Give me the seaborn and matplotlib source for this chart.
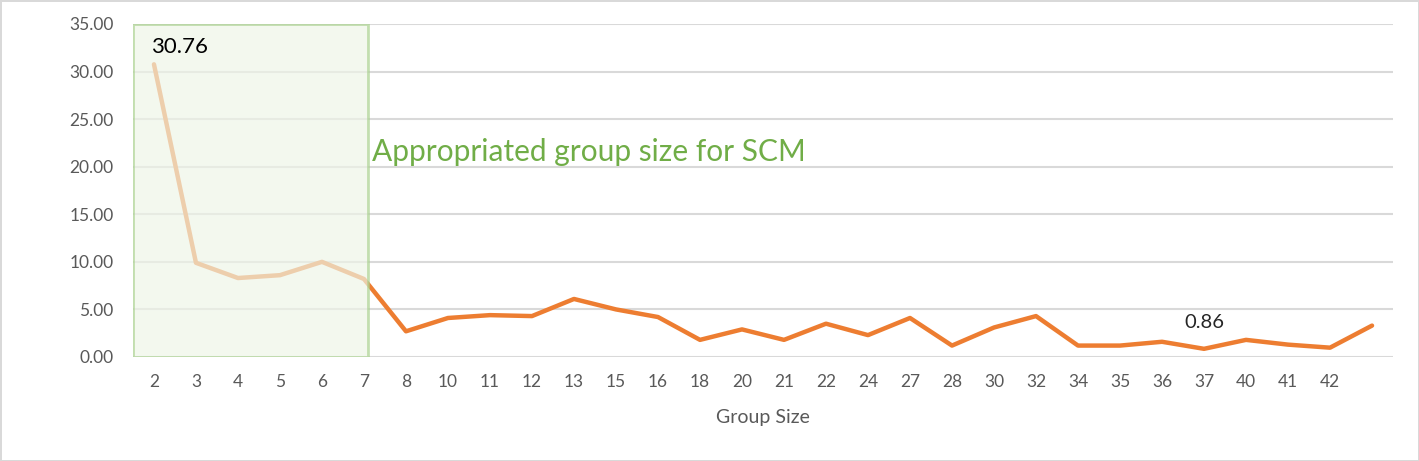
import pandas as pd
import numpy as np
import matplotlib
matplotlib.use("Agg")
import matplotlib.pyplot as plt
from matplotlib.patches import Rectangle
import seaborn as sns

# data
group_sizes = ["2", "3", "4", "5", "6", "7", "8", "10", "11", "12", "13", "15", "16",
               "18", "20", "21", "22", "24", "27", "28", "30", "32", "34", "35", "36",
               "37", "40", "41", "42", ""]
values = [30.76, 9.9, 8.3, 8.6, 10.0, 8.2, 2.7, 4.1, 4.4, 4.3, 6.1, 5.0, 4.2,
          1.8, 2.9, 1.8, 3.5, 2.3, 4.1, 1.2, 3.1, 4.3, 1.2, 1.2, 1.6,
          0.86, 1.8, 1.3, 0.98, 3.3]
y_ticks = [0, 5, 10, 15, 20, 25, 30, 35]

df = pd.DataFrame({"pos": np.arange(len(values)), "value": values})

sns.set_style("white")
plt.rcParams['font.family'] = ['Lato', 'DejaVu Sans']

fig = plt.figure(figsize=(14.19, 4.61), dpi=100)
fig.patch.set_edgecolor("#d9d9d9")
fig.patch.set_linewidth(2)
ax = fig.add_axes([0.0937, 0.2256, 0.888, 0.7224])

sns.lineplot(data=df, x="pos", y="value", ax=ax, color="#ed7d31", linewidth=3.2, zorder=3)

# shaded region for appropriate group sizes
rect = Rectangle((-0.5, 0), 5.6, 35, facecolor="#eef5e7", alpha=0.68,
                 edgecolor="#a9d18e", linewidth=2, zorder=4)
ax.add_patch(rect)

ax.text(5.2, 21.5, "Appropriated group size for SCM", color="#70ad47",
        fontsize=21.5, va="center", ha="left", zorder=5)
ax.text(-0.07, 32.6, "30.76", color="black", fontsize=16, va="center", ha="left", zorder=5)
ax.text(25, 3.65, "0.86", color="#262626", fontsize=14.5, va="center", ha="center", zorder=5)

ax.set_xlim(-0.5, len(values) - 0.5)
ax.set_ylim(0, 35)
ax.set_yticks(y_ticks)
ax.set_yticklabels([f"{t:.2f}" for t in y_ticks])
ax.set_xticks(df["pos"])
ax.set_xticklabels(group_sizes)
ax.tick_params(axis="both", colors="#595959", labelsize=12.5, length=0)
ax.tick_params(axis="x", pad=12)
ax.tick_params(axis="y", pad=14)
ax.grid(axis="y", color="#d9d9d9", linewidth=1.5, zorder=0)
ax.set_axisbelow(True)
for s in ax.spines.values():
    s.set_visible(False)

ax.set_xlabel("Group Size", color="#595959", fontsize=14, labelpad=14)
ax.set_ylabel("")

fig.savefig("out.png", dpi=100, edgecolor=fig.get_edgecolor())
